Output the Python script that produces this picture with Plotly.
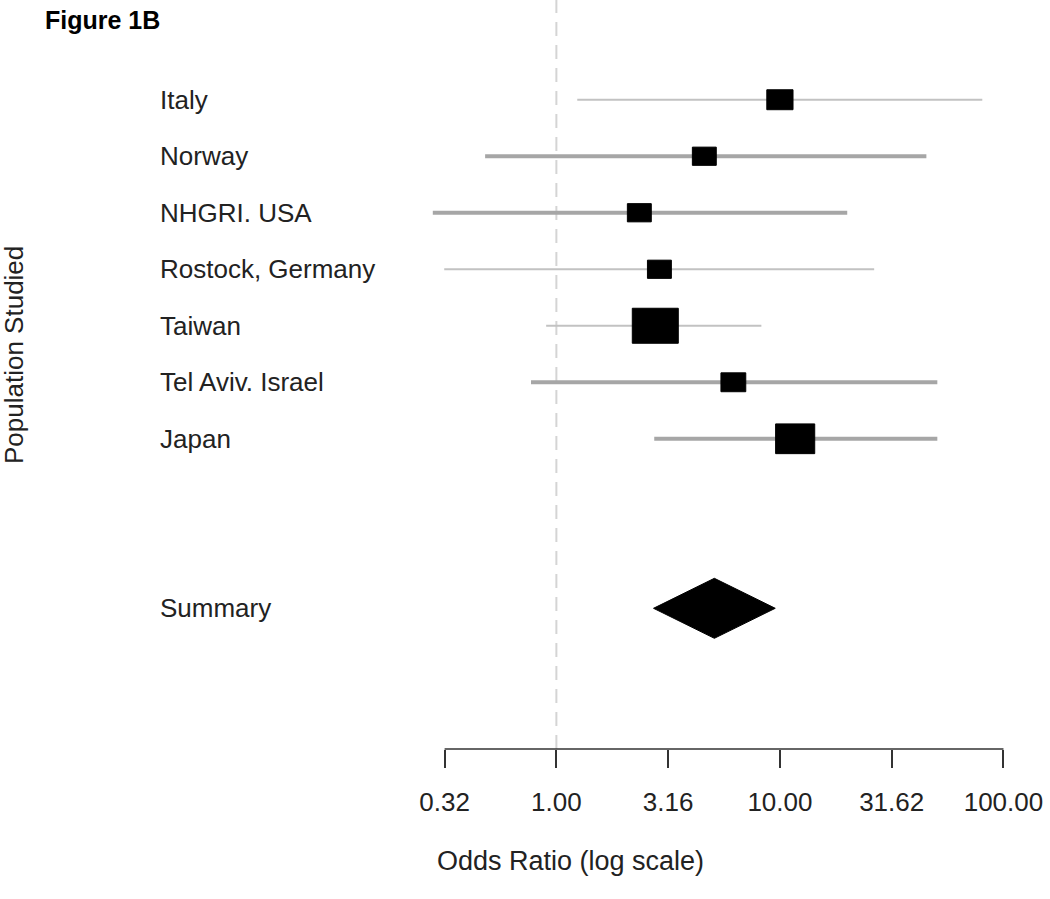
import numpy as np
import plotly.graph_objects as go

# ---------------- data ----------------
studies = ["Italy", "Norway", "NHGRI. USA", "Rostock, Germany",
           "Taiwan", "Tel Aviv. Israel", "Japan"]
odds_ratio = [10.0, 4.59, 2.35, 2.89, 2.77, 6.19, 11.7]
ci_lower = [1.24, 0.48, 0.28, 0.315, 0.90, 0.77, 2.74]
ci_upper = [80.4, 45.2, 20.0, 26.4, 8.26, 50.6, 50.6]
study_weight = [0.57, 0.52, 0.52, 0.52, 1.0, 0.54, 0.85]

summary_label = "Summary"
summary_or = 5.09
summary_lower = 2.72
summary_upper = 9.53

tick_values = [0.3162, 1.0, 3.162, 10.0, 31.62, 100.0]
tick_labels = ["0.32", "1.00", "3.16", "10.00", "31.62", "100.00"]

# ---------------- layout constants ----------------
W, H = 1050, 899
ML, MR, MT, MB = 154, 13, 0, 150
XR = [-1.8, 2.15]
YR = [12.49, -0.765]
plot_w = W - ML - MR
plot_h = H - MT - MB
px_x = plot_w / (XR[1] - XR[0])
px_y = plot_h / abs(YR[0] - YR[1])

BOX_W_PX, BOX_H_PX = 46, 35
DIAMOND_HALF_H_PX = 30
FONT = "Liberation Sans, Arial, sans-serif"
thin_rows = {"Italy", "Rostock, Germany", "Taiwan"}

rows = list(range(1, len(studies) + 1))
summary_row = len(studies) + 3

fig = go.Figure()

# CI lines
for name, lo, hi, r in zip(studies, ci_lower, ci_upper, rows):
    thin = name in thin_rows
    fig.add_trace(go.Scatter(
        x=np.log10([lo, hi]), y=[r, r], mode="lines",
        line=dict(color="#c2c2c2" if thin else "#a6a6a6", width=2 if thin else 4),
        hoverinfo="skip", showlegend=False, cliponaxis=False))

# boxes
for orv, w, r in zip(odds_ratio, study_weight, rows):
    c = np.log10(orv)
    hw = BOX_W_PX * w / 2 / px_x
    hh = BOX_H_PX * w / 2 / px_y
    fig.add_trace(go.Scatter(
        x=[c - hw, c + hw, c + hw, c - hw, c - hw],
        y=[r - hh, r - hh, r + hh, r + hh, r - hh],
        mode="lines", fill="toself", fillcolor="black",
        line=dict(color="black", width=1),
        hoverinfo="skip", showlegend=False))

# summary diamond
dh = DIAMOND_HALF_H_PX / px_y
sl, sc, su = np.log10([summary_lower, summary_or, summary_upper])
fig.add_trace(go.Scatter(
    x=[sl, sc, su, sc, sl], y=[summary_row, summary_row - dh, summary_row, summary_row + dh, summary_row],
    mode="lines", fill="toself", fillcolor="black",
    line=dict(color="black", width=1), hoverinfo="skip", showlegend=False))

# reference dashed line at OR = 1
fig.add_shape(type="line", xref="x", yref="paper", x0=0, x1=0, y0=0, y1=1,
              line=dict(color="#d4d4d4", width=2, dash="14px,9px"), layer="below")
# axis baseline between first and last ticks
lt = np.log10(tick_values)
fig.add_shape(type="line", xref="x", yref="paper", x0=lt[0], x1=lt[-1], y0=0, y1=0,
              line=dict(color="#333333", width=1.5))

# row labels
label_x = (158 - ML) / plot_w
for name, r in zip(studies + [summary_label], rows + [summary_row]):
    fig.add_annotation(x=label_x, xref="paper", y=r, yref="y", text=name,
                       showarrow=False, xanchor="left", yanchor="middle",
                       font=dict(family=FONT, size=26, color="#222222"))

# titles
fig.add_annotation(x=(43 - ML) / plot_w, xref="paper", y=(MT + plot_h - 20) / plot_h, yref="paper",
                   text="<b>Figure 1B</b>", showarrow=False, xanchor="left", yanchor="middle",
                   font=dict(family=FONT, size=25, color="black"))
fig.add_annotation(x=(570 - ML) / plot_w, xref="paper", y=(plot_h - 861) / plot_h, yref="paper",
                   text="Odds Ratio (log scale)", showarrow=False, xanchor="center", yanchor="middle",
                   font=dict(family=FONT, size=27, color="#222222"))
fig.add_annotation(x=(14 - ML) / plot_w, xref="paper", y=(plot_h - 355) / plot_h, yref="paper",
                   text="Population Studied", textangle=-90, showarrow=False,
                   xanchor="center", yanchor="middle",
                   font=dict(family=FONT, size=26, color="#222222"))

fig.update_layout(
    width=W, height=H,
    margin=dict(l=ML, r=MR, t=MT, b=MB, pad=0),
    paper_bgcolor="white", plot_bgcolor="white",
    xaxis=dict(range=XR, tickmode="array", tickvals=lt, ticktext=tick_labels,
               showgrid=False, zeroline=False, showline=False,
               ticks="outside", ticklen=18, tickwidth=1.5, tickcolor="#333333",
               ticklabelstandoff=12,
               tickfont=dict(family=FONT, size=26, color="#222222")),
    yaxis=dict(range=YR, visible=False, showgrid=False, zeroline=False),
)

fig.write_html("out.html", config={"displayModeBar": False},
               post_script="document.body.style.margin='0';")
